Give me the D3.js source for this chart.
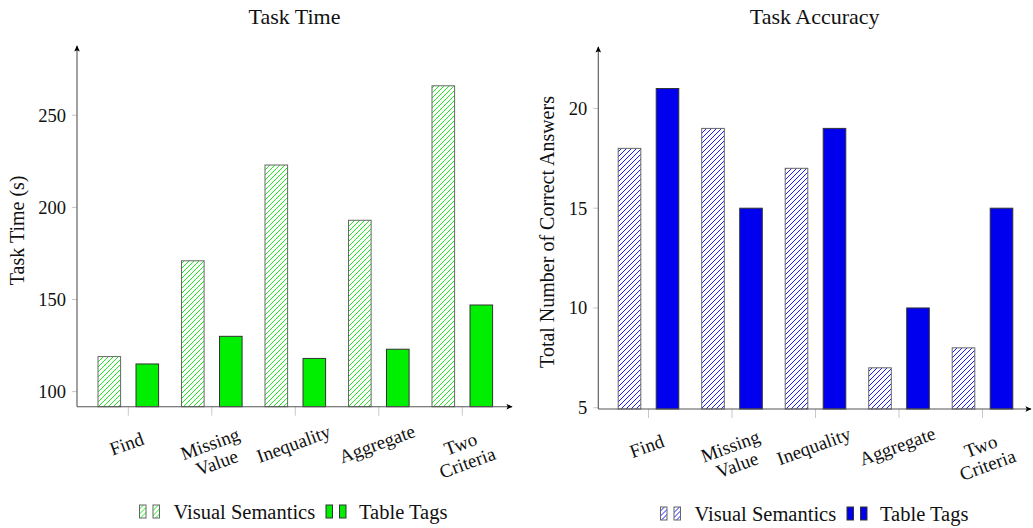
<!DOCTYPE html>
<html lang="en">
<head>
  <meta charset="UTF-8">
  <title>Task Time and Task Accuracy</title>
  <script src="https://d3js.org/d3.v7.min.js"></script>
  <style>
    body { margin: 0; background: #fff; font-family: "Liberation Serif", "DejaVu Serif", serif; }
    svg text { fill: #111; }
  </style>
</head>
<body>
  <svg width="1033" height="528"></svg>

  <script>
    // data
    const categories = ["Find", "Missing\nValue", "Inequality", "Aggregate", "Two\nCriteria"];
    const seriesNames = ["Visual Semantics", "Table Tags"];

    const timeVisual = [119, 171, 223, 193, 266];
    const timeTags = [115, 130, 118, 123, 147];
    const timeTicks = [100, 150, 200, 250];

    const accVisual = [18, 19, 17, 7, 8];
    const accTags = [21, 15, 19, 10, 15];
    const accTicks = [5, 10, 15, 20];

    const svg = d3.select("svg");
    const defs = svg.append("defs");

    function hatch(id, color) {
      const p = defs.append("pattern")
        .attr("id", id)
        .attr("patternUnits", "userSpaceOnUse")
        .attr("width", 5)
        .attr("height", 5);
      p.append("path")
        .attr("d", "M-1,1 L1,-1 M0,5 L5,0 M4,6 L6,4")
        .attr("stroke", color)
        .attr("stroke-width", 0.9);
    }
    hatch("hatchGreen", "#00ee00");
    hatch("hatchBlue", "#0000ff");

    defs.append("marker")
      .attr("id", "arrow")
      .attr("viewBox", "0 0 10 10")
      .attr("refX", 8).attr("refY", 5)
      .attr("markerWidth", 7).attr("markerHeight", 7)
      .attr("markerUnits", "userSpaceOnUse")
      .attr("orient", "auto")
      .append("path")
      .attr("d", "M0,1 L9,5 L0,9 L2,5 Z")
      .attr("fill", "#000");

    function drawChart(cfg) {
      const g = svg.append("g");

      const x = d3.scalePoint()
        .domain(categories)
        .range([cfg.x0, cfg.x0 + 83.5 * 4]);

      const y = d3.scaleLinear()
        .domain(cfg.yDomain)
        .range([cfg.bottom, cfg.top]);

      // title
      g.append("text")
        .attr("x", (cfg.left + cfg.right) / 2)
        .attr("y", 24)
        .attr("text-anchor", "middle")
        .style("font-size", "22px")
        .text(cfg.title);

      // y ticks
      cfg.ticks.forEach(t => {
        g.append("line")
          .attr("x1", cfg.left - 5).attr("x2", cfg.left)
          .attr("y1", y(t)).attr("y2", y(t))
          .attr("stroke", "#c8c8c8");
        g.append("text")
          .attr("x", cfg.left - 11)
          .attr("y", y(t))
          .attr("dy", "0.35em")
          .attr("text-anchor", "end")
          .style("font-size", "18.5px")
          .text(t);
      });

      // x ticks and labels
      categories.forEach(c => {
        g.append("line")
          .attr("x1", x(c)).attr("x2", x(c))
          .attr("y1", cfg.bottom).attr("y2", cfg.bottom + 9)
          .attr("stroke", "#c8c8c8");
        const lines = c.split("\n");
        const t = g.append("text")
          .attr("transform", `translate(${x(c) - 4},${cfg.bottom + 31}) rotate(-20)`)
          .attr("text-anchor", "middle")
          .style("font-size", "19px");
        lines.forEach((l, i) => {
          t.append("tspan")
            .attr("x", 0)
            .attr("y", 13 + i * 20)
            .text(l);
        });
      });

      // bars
      const bw = 22.6;
      const off = 19;
      g.selectAll(".bv")
        .data(cfg.visual)
        .join("rect")
        .attr("x", (d, i) => x(categories[i]) - off - bw / 2)
        .attr("y", d => y(d))
        .attr("width", bw)
        .attr("height", d => cfg.bottom - y(d))
        .attr("fill", `url(#${cfg.hatchId})`)
        .attr("stroke", "#666")
        .attr("stroke-width", 1);

      g.selectAll(".bt")
        .data(cfg.tags)
        .join("rect")
        .attr("x", (d, i) => x(categories[i]) + off - bw / 2)
        .attr("y", d => y(d))
        .attr("width", bw)
        .attr("height", d => cfg.bottom - y(d))
        .attr("fill", cfg.color)
        .attr("stroke", "#333")
        .attr("stroke-width", 1);

      // axes with arrows
      g.append("line")
        .attr("x1", cfg.left).attr("x2", cfg.left)
        .attr("y1", cfg.bottom).attr("y2", cfg.top)
        .attr("stroke", "#555").attr("stroke-width", 1.1)
        .attr("marker-end", "url(#arrow)");
      g.append("line")
        .attr("x1", cfg.left).attr("x2", cfg.right)
        .attr("y1", cfg.bottom).attr("y2", cfg.bottom)
        .attr("stroke", "#555").attr("stroke-width", 1.1)
        .attr("marker-end", "url(#arrow)");

      // y label
      g.append("text")
        .attr("transform", `translate(${cfg.labelX},${(cfg.top + cfg.bottom) / 2 + 4}) rotate(-90)`)
        .attr("text-anchor", "middle")
        .attr("dy", "0.35em")
        .style("font-size", "20px")
        .text(cfg.ylabel);

      // legend
      const lg = g.append("g").attr("transform", `translate(${cfg.legendX},${cfg.legendY})`);
      const swatch = (gx, fill, stroke) => {
        [0, 13.5].forEach(dx => {
          lg.append("rect")
            .attr("x", gx + dx).attr("y", -14)
            .attr("width", 6.5).attr("height", 13)
            .attr("fill", fill)
            .attr("stroke", stroke);
        });
      };
      swatch(0, `url(#${cfg.hatchId})`, "#666");
      lg.append("text").attr("x", 34).attr("y", 0).style("font-size", "20.5px").text(seriesNames[0]);
      swatch(cfg.legendGap, cfg.color, "#333");
      lg.append("text").attr("x", cfg.legendGap + 33).attr("y", 0).style("font-size", "20.5px").text(seriesNames[1]);
    }

    drawChart({
      title: "Task Time",
      ylabel: "Task Time (s)",
      visual: timeVisual,
      tags: timeTags,
      ticks: timeTicks,
      yDomain: [91.8, 287.6],
      left: 77, right: 512, top: 46, bottom: 406.7,
      x0: 128.3,
      labelX: 17,
      color: "#00ee00",
      hatchId: "hatchGreen",
      legendX: 139.5, legendY: 519, legendGap: 186.5
    });

    drawChart({
      title: "Task Accuracy",
      ylabel: "Total Number of Correct Answers",
      visual: accVisual,
      tags: accTags,
      ticks: accTicks,
      yDomain: [4.935, 23.08],
      left: 598.3, right: 1031, top: 47, bottom: 409,
      x0: 648.5,
      labelX: 547,
      color: "#0000ee",
      hatchId: "hatchBlue",
      legendX: 660.5, legendY: 521, legendGap: 186.5
    });
  </script>
</body>
</html>
